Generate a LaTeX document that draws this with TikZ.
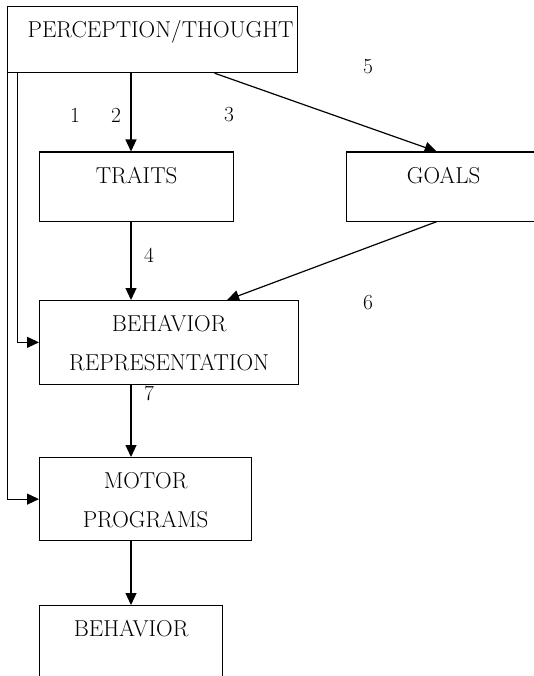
\documentclass[tikz,border=0pt]{standalone}
\usepackage{tikz}
\usetikzlibrary{arrows.meta}

\begin{document}
\begin{tikzpicture}[x=1pt,y=-1pt,
  box/.style={draw,line width=1.2pt,inner sep=0pt,anchor=north west,align=center,text height=31pt,font=\fontsize{23}{38.5}\selectfont},
  num/.style={font=\fontsize{21.5}{25}\selectfont},
  arr/.style={line width=1.2pt,-{Triangle[length=12pt,width=11pt]}}]
\path[use as bounding box] (0,0) rectangle (534,676);
\clip (0,0) rectangle (534,676);
\node[box,text width=290pt,text depth=35pt,align=left] (pt) at (7,6) {\hspace*{20pt}PERCEPTION/THOUGHT};
\node[box,text width=194pt,text depth=38pt] (traits) at (39,151.5) {TRAITS};
\node[box,text width=194pt,text depth=38pt] (goals) at (346,151.5) {GOALS};
\node[box,text width=259pt,text depth=52.5pt] (rep) at (39,300) {BEHAVIOR\\REPRESENTATION};
\node[box,text width=212pt,text depth=52pt] (motor) at (39,457) {MOTOR\\PROGRAMS};
\node[box,text width=183pt,text depth=60pt] (beh) at (39,605) {BEHAVIOR};
\coordinate (col) at (131,0);
\draw[arr] (pt.south -| col) -- (traits.north -| col);
\draw[arr] (traits.south -| col) -- (rep.north -| col);
\draw[arr] (rep.south -| col) -- (motor.north -| col);
\draw[arr] (motor.south -| col) -- (beh.north -| col);
\draw[arr] ([xshift=62pt]pt.south) -- ([xshift=-7pt]goals.north);
\draw[arr] ([xshift=-7pt]goals.south) -- ([xshift=58pt]rep.north);
\draw[arr] ([xshift=0.5pt]pt.south west) |- (motor.west);
\draw[arr] ([xshift=10.5pt]pt.south west) |- (rep.west);
\node[num] (n1) at (75,115) {1};
\node[num] (n2) at (116,115) {2};
\node[num] (n3) at (229,115) {3};
\node[num] (n4) at (149,255) {4};
\node[num] (n5) at (368,67) {5};
\node[num] (n6) at (368,303) {6};
\node[num] (n7) at (149,393) {7};
\end{tikzpicture}
\end{document}
